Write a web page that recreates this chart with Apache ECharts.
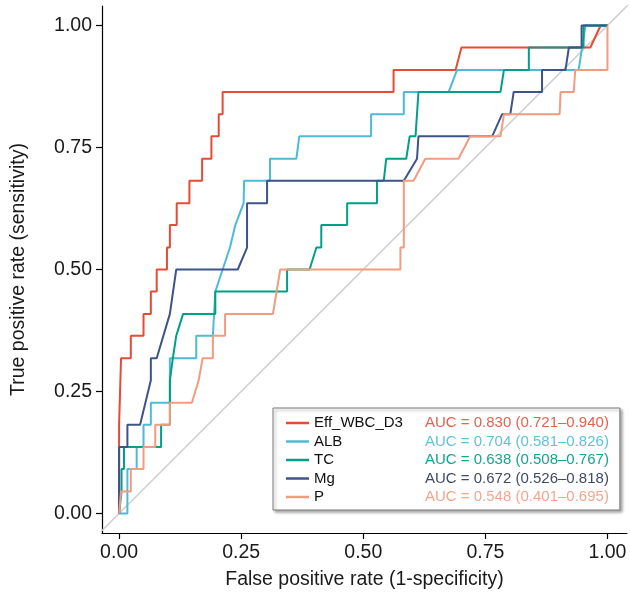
<!DOCTYPE html>
<html>
<head>
<meta charset="utf-8">
<script src="https://cdn.jsdelivr.net/npm/echarts@6/dist/echarts.min.js"></script>
<style>
  html, body { margin: 0; padding: 0; background: #fff; }
  #main { width: 630px; height: 598px; }
</style>
</head>
<body>
<div id="main"></div>
<script>
// ROC points: [fpr, tpr]
const wbcRoc = [[0,0],[0,0.182],[0.004,0.182],[0.004,0.318],[0.024,0.318],[0.024,0.364],[0.050,0.364],[0.050,0.409],[0.065,0.409],[0.065,0.455],[0.077,0.455],[0.077,0.5],[0.098,0.5],[0.098,0.545],[0.104,0.545],[0.104,0.591],[0.118,0.591],[0.118,0.636],[0.144,0.636],[0.144,0.682],[0.170,0.682],[0.170,0.727],[0.189,0.727],[0.189,0.773],[0.204,0.773],[0.204,0.818],[0.212,0.818],[0.212,0.864],[0.562,0.864],[0.562,0.909],[0.689,0.909],[0.701,0.955],[0.965,0.955],[0.986,1],[1,1]];
const albRoc = [[0,0],[0.017,0],[0.017,0.091],[0.036,0.091],[0.036,0.136],[0.050,0.136],[0.050,0.182],[0.065,0.182],[0.065,0.227],[0.104,0.227],[0.104,0.318],[0.158,0.318],[0.158,0.364],[0.192,0.364],[0.197,0.455],[0.227,0.545],[0.238,0.591],[0.241,0.591],[0.255,0.636],[0.256,0.682],[0.309,0.682],[0.309,0.727],[0.363,0.727],[0.369,0.773],[0.516,0.773],[0.516,0.818],[0.583,0.818],[0.583,0.864],[0.675,0.864],[0.692,0.909],[0.941,0.909],[0.955,1],[1,1]];
const tcRoc = [[0,0],[0.005,0.045],[0.005,0.091],[0.010,0.091],[0.010,0.136],[0.086,0.136],[0.086,0.182],[0.104,0.182],[0.104,0.273],[0.110,0.318],[0.117,0.364],[0.131,0.409],[0.197,0.409],[0.197,0.455],[0.344,0.455],[0.344,0.5],[0.390,0.5],[0.404,0.545],[0.414,0.545],[0.414,0.591],[0.467,0.591],[0.467,0.636],[0.528,0.636],[0.528,0.682],[0.542,0.682],[0.547,0.727],[0.588,0.727],[0.595,0.773],[0.607,0.773],[0.613,0.864],[0.781,0.864],[0.788,0.909],[0.839,0.909],[0.839,0.955],[0.951,0.955],[0.951,1],[1,1]];
const mgRoc = [[0,0],[0,0.136],[0.017,0.136],[0.017,0.182],[0.043,0.182],[0.065,0.273],[0.065,0.318],[0.077,0.318],[0.104,0.409],[0.117,0.5],[0.243,0.5],[0.262,0.545],[0.262,0.636],[0.303,0.636],[0.303,0.682],[0.583,0.682],[0.610,0.727],[0.613,0.773],[0.764,0.773],[0.784,0.818],[0.801,0.818],[0.808,0.864],[0.866,0.864],[0.866,0.909],[0.914,0.909],[0.921,0.955],[0.947,0.955],[0.947,1],[1,1]];
const pRoc = [[0,0],[0.004,0.045],[0.024,0.045],[0.024,0.091],[0.050,0.091],[0.050,0.136],[0.074,0.136],[0.074,0.182],[0.104,0.182],[0.104,0.227],[0.149,0.227],[0.163,0.273],[0.171,0.318],[0.192,0.318],[0.192,0.364],[0.217,0.364],[0.217,0.409],[0.315,0.409],[0.330,0.5],[0.576,0.5],[0.576,0.545],[0.583,0.545],[0.583,0.682],[0.603,0.682],[0.627,0.727],[0.695,0.727],[0.719,0.773],[0.781,0.773],[0.788,0.818],[0.902,0.818],[0.904,0.864],[0.931,0.864],[0.934,0.909],[1,0.909],[1,1]];

const seriesNames = ['Eff_WBC_D3', 'ALB', 'TC', 'Mg', 'P'];
const aucLabels = [
  'AUC = 0.830 (0.721\u20130.940)',
  'AUC = 0.704 (0.581\u20130.826)',
  'AUC = 0.638 (0.508\u20130.767)',
  'AUC = 0.672 (0.526\u20130.818)',
  'AUC = 0.548 (0.401\u20130.695)'
];
const tickValues = [0, 0.25, 0.5, 0.75, 1];
const chanceLine = [[-0.1, -0.1], [1.1, 1.1]];

const colors = ['#E64B35', '#4DBBD5', '#00A087', '#3C5488', '#F39B7F'];
const aucColors = ['#E8604E', '#5EC3DA', '#14A58E', '#3f4a66', '#F4A68D'];
const rocData = [wbcRoc, albRoc, tcRoc, mgRoc, pRoc];
const font = 'Liberation Sans, Arial, sans-serif';

var chart = echarts.init(document.getElementById('main'));

// rich styles for the coloured AUC text in legend
var rich = { n: { width: 111, fontSize: 15, color: '#111', fontFamily: font } };
aucColors.forEach(function (c, i) {
  rich['a' + i] = { fontSize: 15, color: c, fontFamily: font };
});

var series = [{
  type: 'line',
  data: chanceLine,
  showSymbol: false,
  silent: true,
  clip: true,
  lineStyle: { color: '#cccccc', width: 1.5 },
  z: 1
}];
rocData.forEach(function (d, i) {
  series.push({
    name: seriesNames[i],
    type: 'line',
    data: d,
    showSymbol: false,
    clip: true,
    lineStyle: { color: colors[i], width: 2 },
    itemStyle: { color: colors[i] },
    z: 2 + i
  });
});

function axisCommon() {
  return {
    type: 'value',
    splitLine: { show: false },
    axisLine: { show: true, onZero: false, lineStyle: { color: '#000', width: 1.2 } },
    axisTick: { show: true, length: 6, customValues: tickValues, lineStyle: { color: '#000', width: 1.2 } },
    axisLabel: {
      customValues: tickValues,
      fontSize: 19.5,
      color: '#1a1a1a',
      fontFamily: font,
      formatter: function (v) { return v.toFixed(2); }
    },
    nameLocation: 'middle',
    nameTextStyle: { fontSize: 19.5, color: '#1a1a1a', fontFamily: font }
  };
}

var xAxis = axisCommon();
xAxis.min = -0.035;
xAxis.max = 1.04;
xAxis.name = 'False positive rate (1-specificity)';
xAxis.nameGap = 37;
xAxis.axisLabel.margin = 10;

var yAxis = axisCommon();
yAxis.min = -0.04;
yAxis.max = 1.04;
yAxis.name = 'True positive rate (sensitivity)';
yAxis.nameGap = 73;
yAxis.axisLabel.margin = 10;

chart.setOption({
  animation: false,
  grid: { left: 102, right: 3, top: 6, bottom: 65 },
  xAxis: xAxis,
  yAxis: yAxis,
  legend: {
    orient: 'vertical',
    left: 273,
    top: 408,
    data: seriesNames,
    icon: 'rect',
    itemWidth: 23,
    itemHeight: 2.5,
    itemGap: 0.5,
    padding: [6, 11, 4, 13],
    backgroundColor: '#fff',
    borderColor: '#7a7a7a',
    borderWidth: 1,
    shadowColor: 'rgba(0,0,0,0.35)',
    shadowBlur: 3,
    shadowOffsetX: 2,
    shadowOffsetY: 2,
    selectedMode: false,
    textStyle: { fontSize: 15, lineHeight: 18, fontFamily: font, rich: rich },
    formatter: function (name) {
      var i = seriesNames.indexOf(name);
      return '{n|' + name + '}{a' + i + '|' + aucLabels[i] + '}';
    }
  },
  series: series
});
</script>
</body>
</html>
